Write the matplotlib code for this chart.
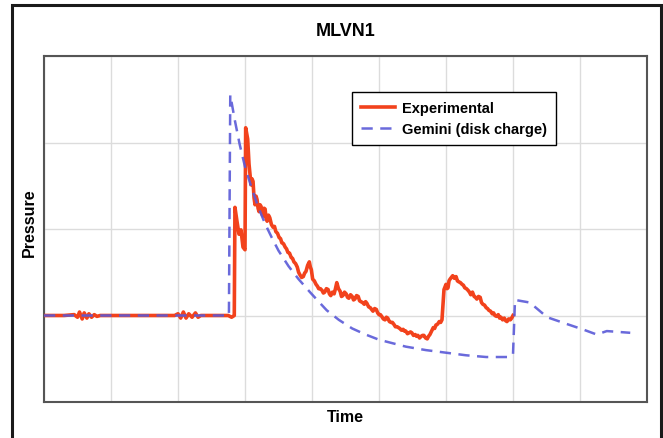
import matplotlib
matplotlib.use("Agg")
import matplotlib.pyplot as plt
from matplotlib.patches import Rectangle

plt.rcParams['font.family'] = ['Liberation Sans', 'DejaVu Sans']

# Measured pressure trace (time and pressure in grid units)
exp_time = [
    0.00, 0.30, 0.45, 0.50, 0.53, 0.57, 0.60, 0.64, 0.67, 0.71, 0.75, 0.79, 0.84,
    0.90, 1.00, 1.50, 1.95, 2.00, 2.04, 2.08, 2.12, 2.16, 2.21, 2.26, 2.30, 2.34,
    2.40, 2.60, 2.75, 2.80, 2.84,
    2.85, 2.88, 2.91, 2.94, 2.97, 3.00, 3.01, 3.04, 3.06,
    3.09, 3.105, 3.12, 3.135, 3.15, 3.165, 3.18, 3.195, 3.21, 3.225,
    3.24, 3.255, 3.27, 3.285, 3.30, 3.315, 3.33, 3.35, 3.37, 3.395,
    3.42, 3.44, 3.46, 3.485, 3.51, 3.53, 3.55, 3.575, 3.60, 3.62,
    3.64, 3.665, 3.69, 3.71, 3.73, 3.755, 3.78, 3.80, 3.82, 3.845,
    3.87, 3.89, 3.91, 3.935, 3.96, 3.975, 3.99, 4.00, 4.01, 4.035,
    4.06, 4.08, 4.10, 4.125, 4.15, 4.17, 4.19, 4.215, 4.24, 4.26,
    4.28, 4.305, 4.33, 4.35, 4.37, 4.395, 4.42, 4.44, 4.46, 4.485,
    4.51, 4.53, 4.55, 4.575, 4.60, 4.62, 4.64, 4.665, 4.69, 4.71,
    4.73, 4.755, 4.78, 4.80, 4.82, 4.845, 4.87, 4.89, 4.91, 4.935,
    4.96, 4.98, 5.00, 5.02, 5.04, 5.065, 5.09, 5.11, 5.13, 5.155,
    5.18, 5.20, 5.22, 5.245, 5.27, 5.29, 5.31, 5.335, 5.36, 5.38,
    5.40, 5.425, 5.45, 5.47, 5.49, 5.515, 5.54, 5.56, 5.58, 5.605,
    5.63, 5.65, 5.67, 5.695, 5.72, 5.74, 5.76, 5.785, 5.81, 5.83,
    5.85, 5.875, 5.90, 5.92, 5.94, 5.97, 5.985, 6.00, 6.015, 6.03,
    6.045, 6.06, 6.08, 6.10, 6.125, 6.15, 6.17, 6.19, 6.215, 6.24,
    6.26, 6.28, 6.305, 6.33, 6.35, 6.37, 6.395, 6.42, 6.44, 6.46,
    6.485, 6.51, 6.53, 6.55, 6.575, 6.60, 6.62, 6.64, 6.665, 6.69,
    6.71, 6.73, 6.755, 6.78, 6.80, 6.82, 6.845, 6.87, 6.89, 6.91,
    6.935, 6.96, 6.98, 7.00]
exp_pressure = [
    1.00, 1.00, 1.01, 0.98, 1.04, 0.96, 1.03, 0.97, 1.02, 0.98, 1.01, 0.99, 1.00,
    1.00, 1.00, 1.00, 1.00, 1.02, 0.97, 1.04, 0.97, 1.02, 0.98, 1.03, 0.98, 1.00,
    1.00, 1.00, 1.00, 0.98, 1.00,
    2.25, 2.09, 1.94, 1.99, 1.79, 1.76, 3.17, 3.04, 2.75,
    2.51, 2.58, 2.55, 2.36, 2.28, 2.38, 2.34, 2.24, 2.20, 2.28,
    2.26, 2.17, 2.15, 2.24, 2.23, 2.12, 2.09, 2.16, 2.13, 2.05,
    2.02, 2.03, 1.97, 1.95, 1.90, 1.89, 1.84, 1.83, 1.79, 1.77,
    1.73, 1.72, 1.67, 1.66, 1.62, 1.60, 1.56, 1.50, 1.47, 1.44,
    1.45, 1.49, 1.51, 1.58, 1.62, 1.56, 1.53, 1.47, 1.42, 1.40,
    1.36, 1.34, 1.31, 1.31, 1.29, 1.26, 1.27, 1.31, 1.30, 1.25,
    1.23, 1.27, 1.25, 1.31, 1.38, 1.31, 1.28, 1.22, 1.23, 1.27,
    1.25, 1.21, 1.20, 1.24, 1.22, 1.18, 1.19, 1.23, 1.22, 1.17,
    1.16, 1.15, 1.13, 1.16, 1.14, 1.10, 1.09, 1.07, 1.05, 1.08,
    1.07, 1.03, 1.01, 1.01, 0.99, 0.96, 0.95, 0.98, 0.97, 0.93,
    0.92, 0.92, 0.90, 0.87, 0.87, 0.86, 0.85, 0.83, 0.84, 0.82,
    0.82, 0.79, 0.80, 0.81, 0.80, 0.77, 0.78, 0.76, 0.77, 0.74,
    0.76, 0.77, 0.77, 0.74, 0.73, 0.76, 0.78, 0.82, 0.86, 0.85,
    0.89, 0.90, 0.93, 0.92, 0.95, 1.30, 1.33, 1.36, 1.31, 1.32,
    1.40, 1.42, 1.44, 1.46, 1.43, 1.45, 1.40, 1.39, 1.38, 1.36,
    1.35, 1.32, 1.31, 1.29, 1.27, 1.24, 1.27, 1.22, 1.21, 1.19,
    1.22, 1.21, 1.15, 1.13, 1.12, 1.09, 1.08, 1.06, 1.05, 1.02,
    1.03, 1.00, 0.99, 1.01, 0.97, 0.98, 0.95, 0.97, 0.94, 0.93,
    0.96, 0.95, 0.97, 1.00]

# Simulated pressure (Gemini, disk charge)
sim_time = [0.00, 2.76, 2.78, 2.85, 2.92, 3.00, 3.10, 3.20, 3.30, 3.40, 3.50, 3.65, 3.80,
            3.97, 4.10, 4.22, 4.40, 4.60, 4.80, 5.00, 5.20, 5.40, 5.70, 6.00, 6.30, 6.60,
            6.95, 7.00, 7.03, 7.25, 7.51, 7.81, 8.04, 8.25, 8.40, 8.75]
sim_pressure = [1.00, 1.00, 3.55, 3.25, 2.98, 2.72, 2.47, 2.25, 2.06, 1.90, 1.75, 1.57, 1.42,
                1.27, 1.16, 1.06, 0.95, 0.85, 0.78, 0.72, 0.68, 0.64, 0.60, 0.57, 0.54, 0.52,
                0.52, 0.55, 1.18, 1.15, 0.98, 0.90, 0.84, 0.78, 0.82, 0.80]

fig = plt.figure(figsize=(6.63, 4.39), dpi=100)
fig.patch.set_facecolor('white')

# outer frame
fig.add_artist(Rectangle((12 / 663, -0.05), 649 / 663, 1.05 - 6 / 439,
                         transform=fig.transFigure, fill=False,
                         edgecolor='#1a1a1a', linewidth=2.2))

ax = fig.add_axes([44 / 663, 1 - 403 / 439, 603 / 663, 346 / 439])
ax.plot(exp_time, exp_pressure, color='#f2421c', linewidth=2.6,
        label='Experimental', zorder=3)
ax.plot(sim_time, sim_pressure, color='#5a5ad8', linewidth=1.8,
        dashes=(4.5, 3), alpha=0.9, label='Gemini (disk charge)', zorder=4)

ax.set_xlim(0, 9)
ax.set_ylim(0, 4)
ax.set_xticks(range(0, 10))
ax.set_yticks(range(0, 5))
ax.tick_params(length=0, labelbottom=False, labelleft=False)
ax.grid(True, color='#dcdcdc', linewidth=1.0)
ax.set_axisbelow(True)
for s in ax.spines.values():
    s.set_color('#555555')
    s.set_linewidth(1.5)

ax.set_xlabel('Time', fontsize=11.5, fontweight='bold', labelpad=5)
ax.set_ylabel('Pressure', fontsize=11.5, fontweight='bold')
ax.yaxis.set_label_coords(-0.012, 0.52)
ax.set_title('MLVN1', fontsize=13, fontweight='bold', pad=15)

leg = ax.legend(loc='upper left', bbox_to_anchor=(0.511, 0.896), fontsize=10.5,
                frameon=True, fancybox=False, framealpha=1, edgecolor='black',
                handlelength=2.3, handletextpad=0.5, borderpad=0.62,
                labelspacing=0.5, borderaxespad=0)
for t in leg.get_texts():
    t.set_fontweight('bold')
leg.get_frame().set_linewidth(1.0)

fig.savefig('out.png', dpi=100)
